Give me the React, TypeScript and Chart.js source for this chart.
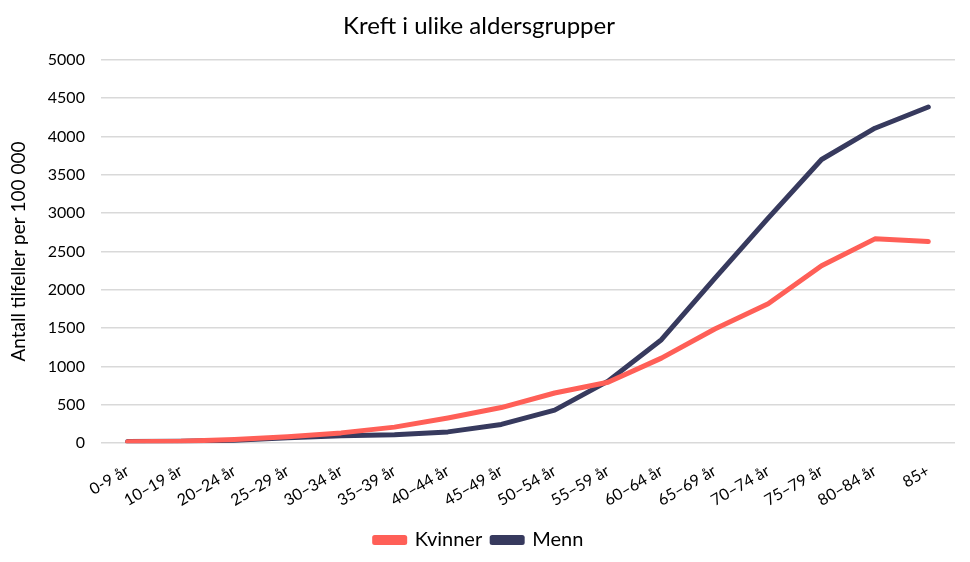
import React, { useEffect, useRef } from "react";
import { Chart, registerables } from "chart.js";

Chart.register(...registerables);

const categories = [
  "0-9 år", "10–19 år", "20–24 år", "25–29 år", "30–34 år", "35–39 år",
  "40–44 år", "45–49 år", "50–54 år", "55–59 år", "60–64 år", "65–69 år",
  "70–74 år", "75–79 år", "80–84 år", "85+",
];
const kvinner = [20, 25, 48, 85, 135, 210, 330, 465, 655, 795, 1110, 1490, 1820, 2315, 2665, 2630];
const menn = [22, 25, 40, 72, 98, 112, 148, 245, 432, 810, 1350, 2150, 2935, 3700, 4108, 4385];
const titleText = "Kreft i ulike aldersgrupper";
const yTitle = "Antall tilfeller per 100 000";

const FONT = "Lato, 'Open Sans', sans-serif";

export default function App() {
  const ref = useRef<HTMLCanvasElement>(null);
  useEffect(() => {
    document.body.style.margin = "0";
    const ctx = ref.current!;
    const chart = new Chart(ctx, {
      type: "line",
      data: {
        labels: categories,
        datasets: [
          { label: "Kvinner", data: kvinner, borderColor: "#FF5F57", backgroundColor: "#FF5F57", borderWidth: 5, pointRadius: 0, tension: 0, borderCapStyle: "round", borderJoinStyle: "round" },
          { label: "Menn", data: menn, borderColor: "#373A5E", backgroundColor: "#373A5E", borderWidth: 5, pointRadius: 0, tension: 0, borderCapStyle: "round", borderJoinStyle: "round" },
        ],
      },
      options: {
        responsive: false,
        animation: false,
        layout: { padding: { left: 3, right: 15, top: 4, bottom: 2 } },
        plugins: {
          title: { display: true, text: titleText, color: "#000", font: { family: FONT, size: 24, weight: "normal" }, padding: { top: 8, bottom: 19 } },
          legend: {
            position: "bottom",
            labels: { color: "#000", font: { family: FONT, size: 20 }, boxWidth: 30, boxHeight: 5, padding: 10 },
          },
          tooltip: { enabled: false },
        },
        scales: {
          x: {
            offset: true,
            grid: { display: false },
            border: { display: false },
            ticks: { color: "#000", font: { family: FONT, size: 16 }, maxRotation: 30, minRotation: 30, padding: 10 },
          },
          y: {
            min: 0, max: 5000,
            grid: { color: "#d9d9d9", lineWidth: 1.5, drawTicks: false },
            border: { display: false },
            ticks: { stepSize: 500, color: "#000", font: { family: FONT, size: 16 }, padding: 16, callback: (v: any) => String(v) },
            title: { display: true, text: yTitle, color: "#000", font: { family: FONT, size: 19 }, padding: { bottom: 2 } },
          },
        },
      },
    });
    return () => chart.destroy();
  }, []);
  return (
    <div style={{ width: 970, height: 562, background: "#fff" }}>
      <canvas ref={ref} width={970} height={562} />
    </div>
  );
}
